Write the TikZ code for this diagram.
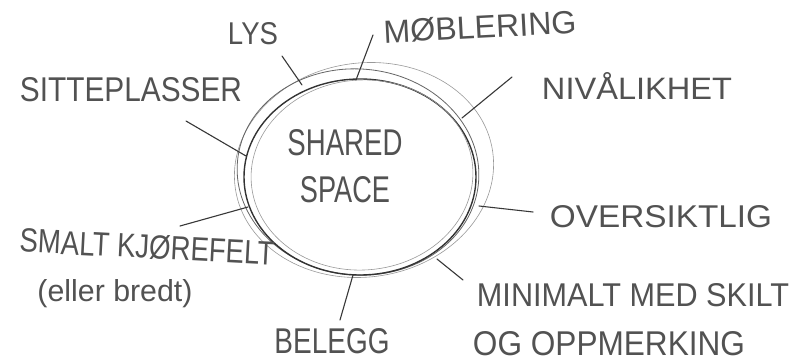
\documentclass[tikz,border=0pt]{standalone}
\usepackage{fontspec}
\setmainfont{Liberation Sans}
\usepackage{graphicx}
\newcommand{\sklbl}[3]{\resizebox{#1pt}{#2pt}{#3}}
\begin{document}
\begin{tikzpicture}[x=1pt,y=-1pt,
  lbl/.style={inner sep=0pt, text=black!68},
  ring/.style={draw=black!60, line width=0.8pt},
  ringdark/.style={draw=black!80, line width=1.4pt},
  ringlight/.style={draw=black!40, line width=0.6pt},
  conn/.style={draw=black!78, line width=1.1pt, line cap=round}]
\fill[white] (0,0) rectangle (798,364);
\useasboundingbox (0,0) rectangle (798,364);

% rings
\draw[ringlight] (364,170) ellipse[x radius=130, y radius=107, rotate=8];
\draw[ring] (358,172) ellipse[x radius=121, y radius=103, rotate=-5];
\draw[ringdark] (360,177) ellipse[x radius=116, y radius=98];
\draw[ringlight] (362,175) ellipse[x radius=111, y radius=95, rotate=4];

% centre text
\node[lbl] (shared) at (345,143) {\sklbl{115}{26}{SHARED}};
\node[lbl] (space) at (345,190) {\sklbl{90}{26}{SPACE}};

% labels
\node[lbl] (lys) at (253,34) {\sklbl{50}{22}{LYS}};
\node[lbl, rotate=3] (mob) at (480,27) {\sklbl{193}{23}{MØBLERING}};
\node[lbl] (niva) at (637,86) {\sklbl{190}{27}{NIVÅLIKHET}};
\node[lbl] (sitte) at (131,90) {\sklbl{222}{24}{SITTEPLASSER}};
\node[lbl] (over) at (661,217) {\sklbl{222}{22}{OVERSIKTLIG}};
\node[lbl, rotate=-3] (smalt) at (147,247) {\sklbl{255}{24}{SMALT KJØREFELT}};
\node[lbl] (eller) at (115,294) {\sklbl{155}{22}{(eller bredt)}};
\node[lbl] (belegg) at (332,341) {\sklbl{115}{25}{BELEGG}};
\node[lbl] (mini) at (633,295) {\sklbl{312}{23}{MINIMALT MED SKILT}};
\node[lbl] (og) at (609,344) {\sklbl{272}{24}{OG OPPMERKING}};

% connector end points
\coordinate (lysA) at (282,56);   \coordinate (lysB) at (302,85);
\coordinate (mobA) at (373,35);   \coordinate (mobB) at (356,80);
\coordinate (sitA) at (186,121);  \coordinate (sitB) at (246,156);
\coordinate (nivA) at (512,77);   \coordinate (nivB) at (462,118);
\coordinate (ovA) at (533,212);   \coordinate (ovB) at (479,206);
\coordinate (miA) at (463,280);   \coordinate (miB) at (437,259);
\coordinate (smA) at (180,226);   \coordinate (smB) at (248,207);
\coordinate (beA) at (340,320);   \coordinate (beB) at (353,275);

\draw[conn] (lysA) -- (lysB);
\draw[conn] (mobA) -- (mobB);
\draw[conn] (sitA) -- (sitB);
\draw[conn] (nivA) -- (nivB);
\draw[conn] (ovA) -- (ovB);
\draw[conn] (miA) -- (miB);
\draw[conn] (smA) -- (smB);
\draw[conn] (beA) -- (beB);
\end{tikzpicture}
\end{document}
